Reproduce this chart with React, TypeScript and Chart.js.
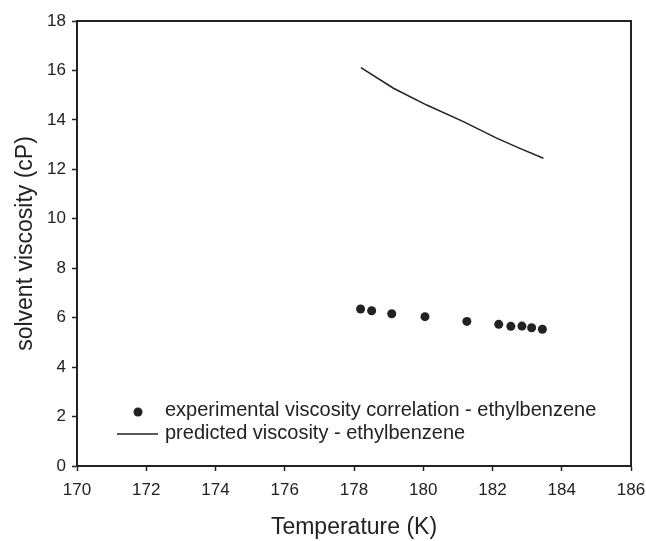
import React, { useEffect, useRef } from "react";
import { Chart, registerables } from "chart.js";

Chart.register(...registerables);

const expTemperature = [178.19, 178.51, 179.09, 180.05, 181.26, 182.18, 182.53, 182.85, 183.13, 183.44];
const expViscosity = [6.35, 6.28, 6.16, 6.04, 5.85, 5.73, 5.65, 5.66, 5.59, 5.53];
const predTemperature = [178.2, 179.14, 180.1, 181.16, 182.12, 182.79, 183.47];
const predViscosity = [16.11, 15.28, 14.6, 13.93, 13.26, 12.85, 12.45];
const legendLabels = [
  "experimental viscosity correlation - ethylbenzene",
  "predicted viscosity - ethylbenzene",
];
const xTitle = "Temperature (K)";
const yTitle = "solvent viscosity (cP)";

const FONT = "'Liberation Sans', Arial, sans-serif";
const INK = "#222222";

const boxAndLegend = {
  id: "boxAndLegend",
  afterDraw(chart: any) {
    const { ctx, chartArea } = chart;
    const { left, top, right, bottom } = chartArea;
    ctx.save();
    ctx.strokeStyle = INK;
    ctx.lineWidth = 2;
    ctx.beginPath();
    ctx.moveTo(left, top);
    ctx.lineTo(right, top);
    ctx.lineTo(right, bottom);
    ctx.stroke();

    // legend
    ctx.fillStyle = INK;
    ctx.font = `20px ${FONT}`;
    ctx.textBaseline = "middle";
    ctx.textAlign = "left";
    const tx = left + 88;
    const y1 = bottom - 56;
    const y2 = bottom - 33;
    ctx.beginPath();
    ctx.arc(left + 61, y1 + 2, 4.5, 0, Math.PI * 2);
    ctx.fill();
    ctx.fillText(legendLabels[0], tx, y1);
    ctx.lineWidth = 1.5;
    ctx.beginPath();
    ctx.moveTo(left + 40, y2 + 1);
    ctx.lineTo(left + 81, y2 + 1);
    ctx.stroke();
    ctx.fillText(legendLabels[1], tx, y2);
    ctx.restore();
  },
};

export default function App() {
  const ref = useRef<HTMLCanvasElement | null>(null);
  useEffect(() => {
    document.body.style.margin = "0";
    if (!ref.current) return;
    const chart = new Chart(ref.current, {
      type: "scatter",
      data: {
        datasets: [
          {
            label: legendLabels[0],
            data: expTemperature.map((t, i) => ({ x: t, y: expViscosity[i] })),
            showLine: false,
            pointRadius: 4.5,
            pointBackgroundColor: INK,
            pointBorderColor: INK,
            pointBorderWidth: 0,
          },
          {
            label: legendLabels[1],
            data: predTemperature.map((t, i) => ({ x: t, y: predViscosity[i] })),
            showLine: true,
            pointRadius: 0,
            borderColor: INK,
            borderWidth: 1.5,
            tension: 0,
          },
        ],
      },
      options: {
        animation: false,
        responsive: false,
        layout: { padding: { top: 21, right: 15, left: 0, bottom: 0 } },
        plugins: { legend: { display: false }, tooltip: { enabled: false } },
        scales: {
          x: {
            type: "linear",
            min: 170,
            max: 186,
            afterFit: (s: any) => {
              s.height = 75;
              s.paddingRight = 0;
              s.paddingLeft = 0;
            },
            ticks: {
              stepSize: 2,
              color: INK,
              font: { family: FONT, size: 17 },
              padding: 9,
            },
            grid: {
              drawOnChartArea: false,
              drawTicks: true,
              tickLength: 5,
              tickColor: INK,
              tickWidth: 1.5,
            },
            border: { display: true, color: INK, width: 2 },
            title: {
              display: true,
              text: xTitle,
              color: INK,
              font: { family: FONT, size: 23 },
              padding: { top: 0, bottom: 0 },
            },
          },
          y: {
            type: "linear",
            min: 0,
            max: 18,
            afterFit: (s: any) => {
              s.width = 77;
              s.paddingTop = 0;
              s.paddingBottom = 0;
            },
            ticks: {
              stepSize: 2,
              color: INK,
              font: { family: FONT, size: 17 },
              padding: 6,
            },
            grid: {
              drawOnChartArea: false,
              drawTicks: true,
              tickLength: 5,
              tickColor: INK,
              tickWidth: 1.5,
            },
            border: { display: true, color: INK, width: 2 },
            title: {
              display: true,
              text: yTitle,
              color: INK,
              font: { family: FONT, size: 23 },
              padding: { top: 12, bottom: 0 },
            },
          },
        },
      },
      plugins: [boxAndLegend],
    });
    return () => chart.destroy();
  }, []);
  return (
    <div style={{ width: 646, height: 541, background: "#fff" }}>
      <canvas ref={ref} width={646} height={541} />
    </div>
  );
}
